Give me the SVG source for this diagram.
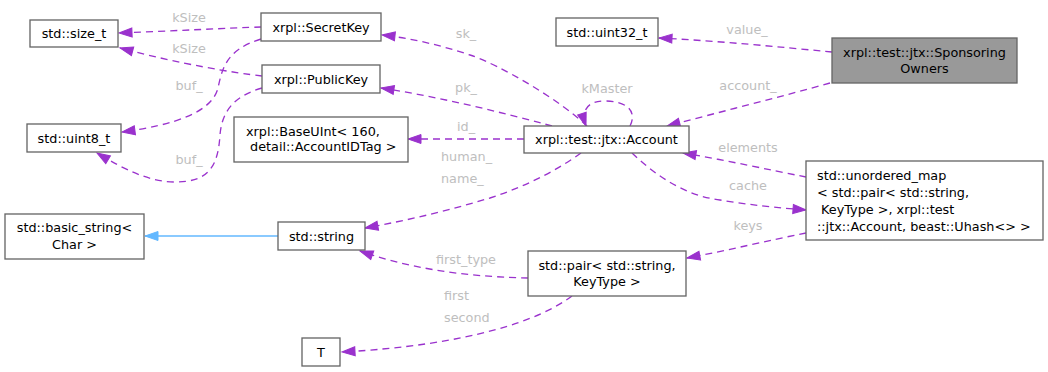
<svg xmlns="http://www.w3.org/2000/svg" width="1048" height="372" viewBox="0 0 1048 372">
<style>
.n rect{fill:#ffffff;stroke:#666666;stroke-width:1.33}
.n text,.e text{font-family:"DejaVu Sans",sans-serif;font-size:12.8px}
.n text{fill:#000000}
.c{text-anchor:middle}
.e text{fill:#bebebe}
.u{fill:none;stroke:#9a32cd;stroke-width:1.33;stroke-dasharray:7,5;marker-end:url(#ap)}
.i{fill:none;stroke:#63b8ff;stroke-width:1.33;marker-end:url(#ab)}
</style>
<defs>
<marker id="ap" markerUnits="userSpaceOnUse" markerWidth="15" markerHeight="11" refX="13" refY="5" orient="auto" overflow="visible"><path d="M0,0.5 L13,5 L0,9.5 z" fill="#9a32cd" stroke="#9a32cd" stroke-width="1"/></marker>
<marker id="ab" markerUnits="userSpaceOnUse" markerWidth="15" markerHeight="11" refX="13" refY="5" orient="auto" overflow="visible"><path d="M0,0.5 L13,5 L0,9.5 z" fill="#63b8ff" stroke="#63b8ff" stroke-width="1"/></marker>
</defs>
<g id="edges" class="e">
<path class="u" d="M261,27 C230,28 170,31 119,33"/>
<text class="c" x="189" y="22">kSize</text>
<path class="u" d="M262,76 C235,73 180,64 120,48"/>
<text class="c" x="189" y="53">kSize</text>
<path class="u" d="M261,39 C225,50 222,70 218,88 C212,112 175,125 122,132"/>
<text class="c" x="189" y="90">buf_</text>
<path class="u" d="M262,88 C235,96 222,110 220,135 C218,165 210,182 175,182 C150,182 125,170 97,153"/>
<text class="c" x="189" y="164">buf_</text>
<path class="u" d="M587,126 C560,100 500,65 470,55 C440,45 410,38 382,35"/>
<text class="c" x="466" y="38">sk_</text>
<path class="u" d="M552,126 C500,112 440,97 381,88"/>
<text class="c" x="466" y="92">pk_</text>
<path class="u" d="M524,139 L408,139"/>
<text class="c" x="466" y="131">id_</text>
<path class="u" d="M630,126 C638,110 625,101 605,101 C590,101 580,108 586,126"/>
<text class="c" x="607" y="93">kMaster</text>
<path class="u" d="M832,52 C780,47 720,41 659,38"/>
<text class="c" x="747" y="34">value_</text>
<path class="u" d="M830,83 C780,97 720,112 667,126"/>
<text class="c" x="748" y="90">account_</text>
<path class="u" d="M806,177 C770,170 725,160 683,153"/>
<text class="c" x="748" y="152">elements</text>
<path class="u" d="M632,153 C650,170 680,195 720,200 C750,205 780,208 806,210"/>
<text class="c" x="748" y="190">cache</text>
<path class="u" d="M806,233 C770,240 730,250 687,258"/>
<text class="c" x="748" y="230">keys</text>
<path class="u" d="M581,153 C560,168 530,185 490,198 C450,210 410,220 365,228"/>
<text x="441" y="161">human_</text>
<text x="441" y="183">name_</text>
<path class="u" d="M528,278 C480,277 420,272 360,251"/>
<text class="c" x="466" y="264">first_type</text>
<path class="u" d="M572,296 C540,320 470,345 342,352"/>
<text x="444" y="300">first</text>
<text x="444" y="322">second</text>
<path class="i" d="M278,236 L145,236"/>
</g>
<g id="size_t" class="n"><rect x="30" y="20" width="88" height="27"/><text class="c" x="74" y="38">std::size_t</text></g>
<g id="SecretKey" class="n"><rect x="261" y="13" width="120" height="28"/><text class="c" x="321" y="31.5">xrpl::SecretKey</text></g>
<g id="PublicKey" class="n"><rect x="262" y="65" width="118" height="28"/><text class="c" x="321" y="83.5">xrpl::PublicKey</text></g>
<g id="uint8_t" class="n"><rect x="27" y="124" width="94" height="28"/><text class="c" x="74" y="142.5">std::uint8_t</text></g>
<g id="BaseUInt" class="n"><rect x="234" y="117" width="174" height="45"/><text x="246" y="136">xrpl::BaseUInt&lt; 160,</text><text x="246" y="151" xml:space="preserve"> detail::AccountIDTag &gt;</text></g>
<g id="uint32_t" class="n"><rect x="556" y="18" width="102" height="28"/><text class="c" x="607" y="36.5">std::uint32_t</text></g>
<g id="Account" class="n"><rect x="524" y="126" width="165" height="27"/><text class="c" x="606.5" y="144">xrpl::test::jtx::Account</text></g>
<g id="SponsoringOwners" class="n"><rect x="832" y="38" width="185" height="45" style="fill:#999999"/><text class="c" x="924.5" y="57">xrpl::test::jtx::Sponsoring</text><text class="c" x="924.5" y="73">Owners</text></g>
<g id="unordered_map" class="n"><rect x="806" y="161" width="237" height="79"/><text x="817" y="179.5">std::unordered_map</text><text x="817" y="196.5">&lt; std::pair&lt; std::string,</text><text x="817" y="213.5" xml:space="preserve"> KeyType &gt;, xrpl::test</text><text x="817" y="230.5">::jtx::Account, beast::Uhash&lt;&gt; &gt;</text></g>
<g id="basic_string" class="n"><rect x="5" y="214" width="139" height="45"/><text class="c" x="74.5" y="232">std::basic_string&lt;</text><text class="c" x="74.5" y="249">Char &gt;</text></g>
<g id="string" class="n"><rect x="278" y="222" width="87" height="28"/><text class="c" x="321.5" y="240.5">std::string</text></g>
<g id="T" class="n"><rect x="302" y="338" width="38" height="28"/><text class="c" x="321" y="356.5">T</text></g>
<g id="pair" class="n"><rect x="528" y="251" width="158" height="45"/><text class="c" x="607" y="269.5">std::pair&lt; std::string,</text><text class="c" x="607" y="286">KeyType &gt;</text></g>
</svg>
